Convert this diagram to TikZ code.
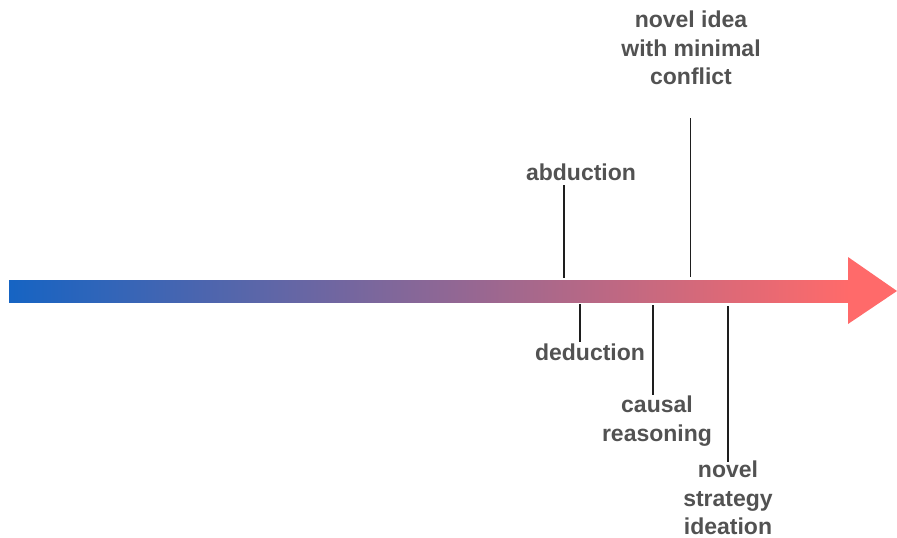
\documentclass[tikz,border=0pt]{standalone}
\usepackage{fontspec}
\setmainfont{Liberation Sans}
\definecolor{startblue}{RGB}{22,100,195}
\definecolor{endred}{RGB}{255,106,106}
\definecolor{labelgray}{RGB}{82,82,82}
\definecolor{tickgray}{RGB}{30,30,30}
\tikzset{
  lbl/.style={align=center, inner sep=0pt, text=labelgray,
    font=\fontsize{23}{28.5}\selectfont\bfseries},
  tick/.style={draw=tickgray, line width=1.6pt}
}
\begin{document}
\begin{tikzpicture}[x=1pt,y=-1pt]
\useasboundingbox (0,0) rectangle (897,538);

% gradient arrow
\shade[left color=startblue, right color=endred] (9,280) rectangle (849,302);
\fill[endred] (848,257) -- (897,291) -- (848,324) -- cycle;

% labels
\node[lbl] (abd) at (581,172) {abduction};
\node[lbl] (idea) at (691,48) {novel idea\\with minimal\\conflict};
\node[lbl] (ded) at (590,352) {deduction};
\node[lbl] (caus) at (657,421) {causal\\reasoning};
\node[lbl] (strat) at (728,498) {novel\\strategy\\ideation};

% tick ends
\coordinate (abdTop) at (564,185);
\coordinate (abdBot) at (564,278);
\coordinate (ideaTop) at (690.5,118);
\coordinate (ideaBot) at (690.5,277);
\coordinate (dedTop) at (580,304);
\coordinate (dedBot) at (580,342);
\coordinate (causTop) at (653,305);
\coordinate (causBot) at (653,395);
\coordinate (stratTop) at (728,306);
\coordinate (stratBot) at (728,462);

\draw[tick] (abdTop) -- (abdBot);
\draw[tick] (ideaTop) -- (ideaBot);
\draw[tick] (dedTop) -- (dedBot);
\draw[tick] (causTop) -- (causBot);
\draw[tick] (stratTop) -- (stratBot);
\end{tikzpicture}
\end{document}
